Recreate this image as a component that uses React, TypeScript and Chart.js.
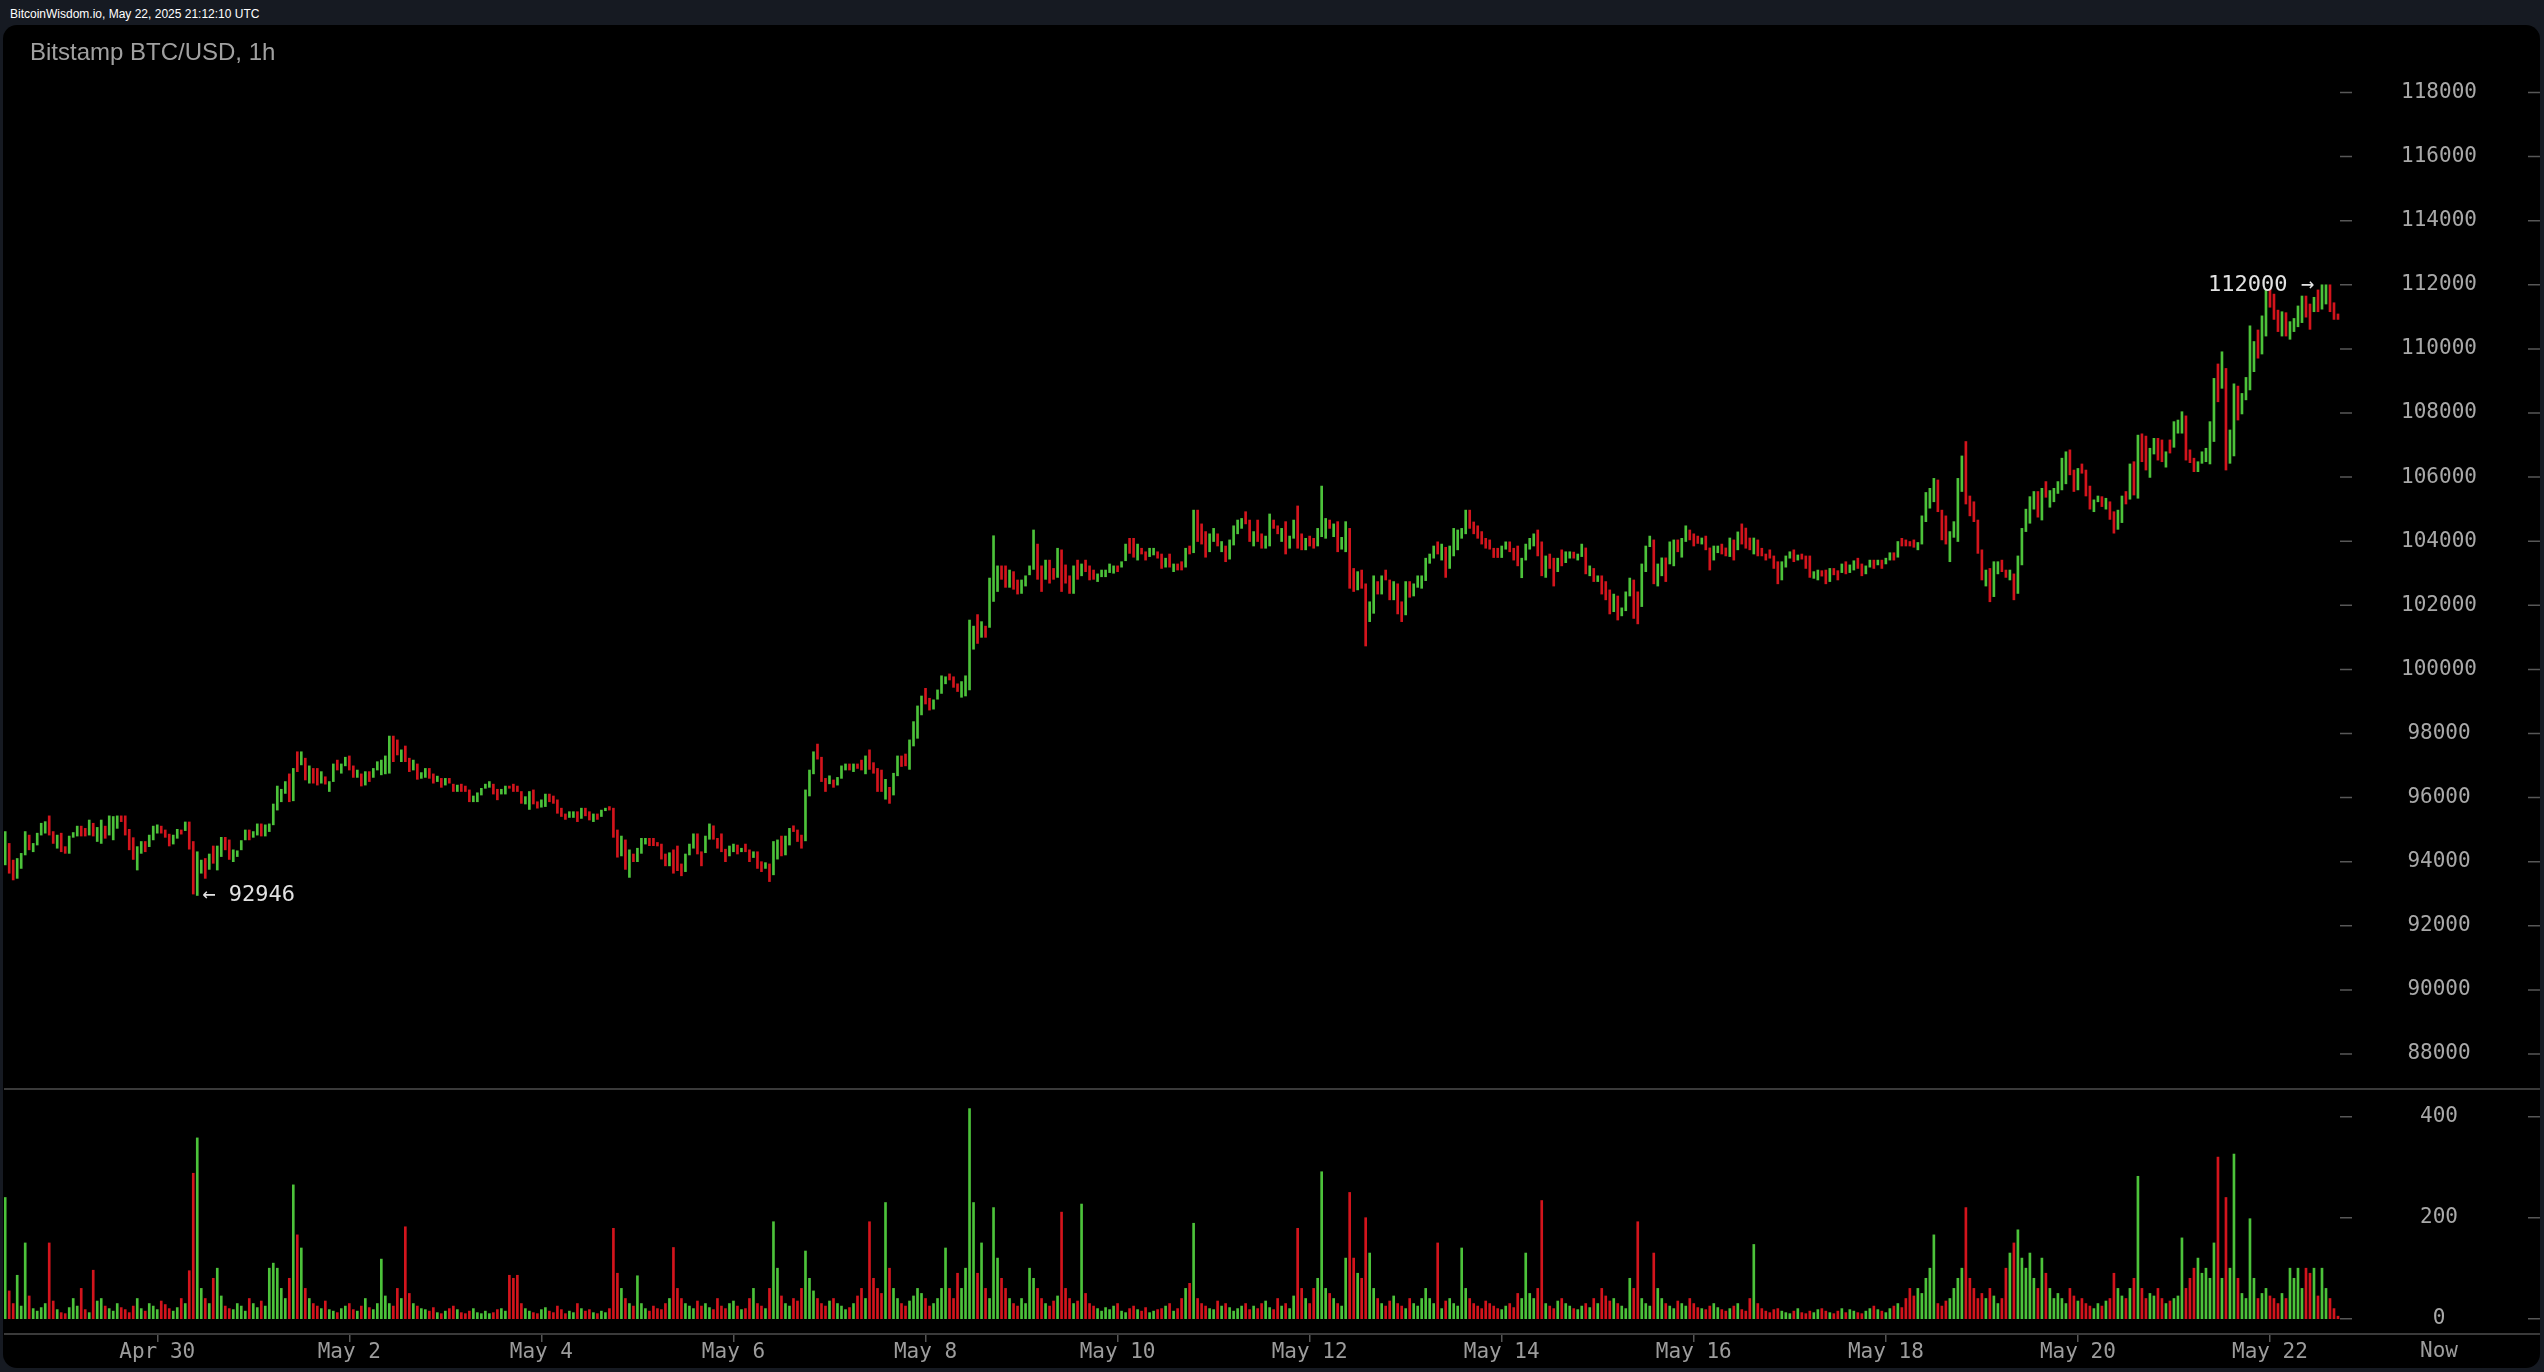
import React, { useEffect, useRef } from "react";
import { Chart, registerables } from "chart.js";

Chart.register(...registerables);

// ---------- data (hourly candles, Bitstamp BTC/USD) ----------
const highs: number[] = [
  94940,94570,94050,94100,94260,94940,94830,94570,94890,95200,95250,95430,
  94940,94830,94890,94470,94800,94910,95110,95110,95040,95300,95200,95070,
  95300,95110,95430,95410,95430,95430,95430,95010,94750,94470,94630,94630,
  94830,95110,95150,95110,94990,94860,94830,95010,94990,95240,95240,94630,
  94310,94050,94100,94240,94490,94490,94760,94760,94680,94370,94340,94660,
  94990,94990,94940,95180,95180,95150,95180,95800,96360,96260,96500,96740,
  96910,97430,97430,97230,96990,96910,96910,96810,96650,96500,97050,97170,
  97050,97260,97300,96990,96860,96740,96810,96810,96910,97120,97170,97300,
  97920,97920,97800,97490,97610,97230,97170,97050,96780,96910,96910,96740,
  96670,96600,96600,96600,96420,96390,96420,96360,96240,96050,96150,96290,
  96420,96500,96420,96260,96260,96360,96360,96420,96360,96190,96030,96190,
  96240,95870,95930,96110,96110,96050,95930,95670,95490,95560,95560,95560,
  95670,95670,95560,
  95490,95490,95610,95670,95720,95670,94990,94800,94680,94370,94240,94420,
  94730,94730,94730,94730,94600,94550,94240,94280,94370,94490,93930,94240,
  94550,94870,94870,94310,94800,95180,95120,94730,94870,94390,94490,94550,
  94520,94420,94550,94370,94310,94310,94000,93970,93930,94630,94680,94800,
  94800,95040,95120,94990,94830,96240,96860,97430,97670,97260,96600,96680,
  96550,96630,96990,97050,97050,97050,97050,97170,97300,97490,97090,96910,
  96860,96570,96320,96760,97300,97300,97360,97800,98370,98860,99170,99410,
  99100,99050,99360,99800,99770,99860,99770,99550,99620,99800,101540,101350,
  101710,101490,101350,102850,104170,103230,103230,103230,103100,103050,102790,102790,
  102920,103230,104350,103910,103230,103410,103410,103150,103780,103730,103260,102920,
  103230,103410,103290,103410,103230,103100,102980,103100,103100,103290,103230,103230,
  103360,103910,104090,104090,103910,103780,103670,103780,103780,103670,103600,103470,
  103600,103290,
  103290,103360,103780,103850,104970,104970,104540,104300,104230,104400,104230,103990,
  103850,104040,104480,104660,104710,104920,104660,104300,104660,104230,104160,104850,
  104660,104480,104400,104610,104160,104660,105100,104230,104090,104160,104090,104400,
  105720,104710,104660,104540,104610,104120,104610,104400,103150,103050,103100,102670,
  102110,102920,102740,102920,103100,102790,102740,102670,102110,102740,102740,102670,
  102920,102920,103470,103600,103850,103980,103910,103810,103850,104400,104350,104400,
  104970,104970,104600,104480,104300,104090,104040,103780,103780,103850,103980,103980,
  103780,103850,103470,103910,104090,104230,104350,103980,103540,103600,103470,103470,
  103730,103670,103670,103660,103600,103910,103790,103230,103150,102920,102920,102740,
  102480,102350,102290,101920,102420,102850,102790,102420,103290,103850,104160,104040,
  103290,103480,103480,103980,104040,104040,104090,104480,104350,104230,104160,104100,
  104160,103790,103850,103850,103910,103790,104100,104040,104290,104540,104410,104100,
  104100,104040,
  103780,103600,103730,103540,103360,103360,103540,103670,103730,103570,103600,103540,
  103540,103050,103100,103080,103100,103150,103150,103080,103290,103360,103260,103390,
  103470,103290,103230,103410,103410,103410,103410,103470,103640,103640,103990,104090,
  104040,103990,104040,103960,104790,105520,105650,105960,105910,104970,104790,104300,
  104610,105960,106660,107110,105410,105230,104660,103730,103100,103150,103360,103360,
  103410,103100,103100,102980,103540,104400,105000,105390,105550,105550,105650,105860,
  105580,105650,105860,106590,106790,106850,106220,106270,106410,106220,105720,105290,
  105410,105390,105340,105230,104920,104970,105410,105550,106410,106480,107310,107350,
  107280,106900,107210,107210,107160,106790,107160,107730,107780,108040,107910,106850,
  106590,106480,106790,106900,107730,109080,109530,109910,109390,107470,108910,108840,
  108610,109110,110720,110230,110590,111030,111860,111860,111710,111210,111160,111130,
  110850,110950,111340,111650,111650,111400,111610,111840,112000,112000,112000,111440,
  111090,
];

const lows: number[] = [
  93900,93640,93430,93480,93790,94210,94370,94310,94520,94830,94890,94830,
  94570,94420,94310,94260,94260,94760,94800,94800,94800,94830,94800,94630,
  94570,94730,94830,94680,95040,95250,94830,94370,94070,93740,94260,94310,
  94470,94680,94890,94890,94760,94490,94550,94730,94860,94970,94390,92990,
  92946,93640,93480,93760,93950,93740,94160,94370,94070,94000,94160,94370,
  94680,94680,94760,94830,94800,94800,94940,95150,95610,95870,96130,95870,
  95900,96810,97020,96550,96450,96450,96390,96450,96420,96190,96500,96860,
  96760,96990,96860,96630,96630,96360,96390,96500,96630,96860,96710,96740,
  96760,97120,97330,97120,97120,96810,96860,96570,96600,96630,96600,96450,
  96500,96320,96390,96450,96190,96190,96190,96190,95870,95870,95870,96080,
  96290,96320,96110,95930,96110,96110,96290,96190,96190,95820,95800,95630,
  95800,95670,95700,95720,95870,95820,95510,95410,95320,95380,95380,95250,
  95350,95430,95300,
  95250,95320,95410,95590,95610,94760,94140,94180,93760,93510,94000,94000,
  94260,94550,94500,94500,94490,94080,93870,93870,93640,93720,93560,93690,
  94210,94420,94240,93870,94280,94700,94700,94420,94310,94000,94180,94310,
  94240,94310,94310,94000,94130,93790,93690,93790,93380,93590,94080,94180,
  94210,94520,94940,94630,94420,94650,96050,96740,97200,96500,96190,96430,
  96320,96390,96600,96860,96860,96810,96910,96860,96740,96880,96760,96190,
  96190,95950,95820,96080,96680,96970,96990,96880,97610,97850,98580,98920,
  98730,98760,99070,99250,99550,99670,99440,99310,99130,99170,99360,100630,
  100810,101000,101000,101310,102120,102430,102810,102560,102560,102500,102350,102370,
  102600,102950,103120,102810,102430,102810,102690,102810,102870,102430,102690,102370,
  102370,102810,102920,103050,102790,102810,102740,102890,102890,103020,103000,103050,
  103190,103390,103620,103500,103410,103600,103410,103520,103570,103470,103150,103190,
  103190,103050,
  103100,103100,103190,103600,103640,103990,103910,103500,103670,103990,103850,103670,
  103360,103440,103880,104230,104400,104540,103990,103850,103990,103780,103780,103850,
  104400,104230,103990,103600,103780,104090,103780,103730,103730,103850,103780,103850,
  104140,104090,104400,104140,103670,103750,103670,102530,102430,102480,102530,100730,
  101490,101750,102350,102350,102790,102170,102170,101730,101490,101700,102250,102290,
  102560,102530,102770,103310,103470,103600,103410,102870,103150,103540,103730,104090,
  104230,104400,104230,104090,103910,103780,103750,103490,103490,103490,103750,103670,
  103410,103230,102860,103410,103750,103850,103540,102920,102870,103150,102600,103050,
  103230,103330,103470,103470,103410,103520,102980,102920,102740,102740,102350,102170,
  101730,101800,101540,101670,101830,102290,101590,101420,101960,103050,103830,102670,
  102600,102920,102740,103290,103230,103670,103500,103990,104040,103850,103930,103910,
  103730,103100,103410,103640,103600,103540,103520,103410,103730,103910,103780,103730,
  103600,103540,
  103540,103410,103470,103150,102670,102790,103190,103470,103360,103410,103440,103150,
  102870,102840,102790,102910,102670,102740,102950,102790,103020,102980,103020,103100,
  103150,102920,102980,103190,103150,103260,103150,103290,103410,103410,103500,103850,
  103850,103850,103810,103730,103910,104610,105030,105230,104920,104040,103910,103360,
  104120,103990,105550,105160,104790,104610,103620,102790,102600,102110,102270,102980,
  103050,102870,102790,102170,102370,103260,104300,104560,105000,104750,104660,105370,
  105060,105230,105490,105600,105790,106070,105550,105600,106120,105410,105000,104920,
  105230,105080,105000,104680,104250,104370,104580,105160,105310,105440,105340,106480,
  106220,105990,106720,106530,106480,106310,106750,106930,107370,107370,106530,106450,
  106170,106170,106430,106480,106410,107110,108350,108770,106220,106430,106660,107780,
  107970,108410,108720,109290,109710,109840,110400,111300,110920,110540,110400,110400,
  110300,110540,110690,110820,110990,110610,111160,111160,111240,111400,111160,110920,
  110920,
];

const closes: number[] = [
  94800,93750,93500,94000,94200,94850,94420,94540,94850,95150,95200,94880,
  94610,94780,94360,94280,94760,94890,95080,94830,94820,95250,94840,95020,
  95220,94770,95300,95340,95400,95270,94880,94430,94130,94400,94580,94350,
  94790,95060,95120,94910,94780,94530,94800,94980,94870,95210,94450,93100,
  93900,94020,93560,94180,94000,94420,94700,94410,94120,94330,94340,94620,
  94950,94710,94920,95150,94830,95110,95170,95740,96200,96240,96460,95950,
  96850,96830,97380,96620,96940,96500,96440,96770,96440,96470,97000,96890,
  97020,97230,96900,96670,96840,96400,96760,96540,96880,97090,97130,97250,
  97800,97450,97380,97450,97160,96850,97130,96610,96760,96880,96630,96480,
  96650,96350,96580,96470,96210,96370,96220,96200,95900,96030,96130,96270,
  96410,96480,96140,95960,96240,96340,96300,96210,96200,95850,96010,96150,
  95830,95690,95910,96080,95890,95840,95540,95430,95340,95540,95550,95270,
  95640,95450,95320,
  95470,95340,95590,95660,95620,94800,94180,94750,93800,94300,94020,94380,
  94700,94720,94520,94510,94500,94110,93900,94240,93900,93760,93590,94180,
  94500,94830,94290,93900,94750,95120,94740,94450,94350,94030,94450,94520,
  94270,94400,94330,94030,94290,93830,93720,93950,93450,94550,94640,94220,
  94760,95000,94960,94660,94450,96150,96800,97350,97230,96540,96220,96650,
  96340,96610,96960,97030,96880,97020,96930,96880,97250,96920,96790,96240,
  96220,96510,95860,96700,97250,97000,96990,97720,98300,98780,99120,98960,
  98760,99020,99330,99750,99760,99690,99470,99330,99580,99760,101300,101320,
  100860,101450,101030,102750,103100,103200,102850,102600,103050,102540,102380,102760,
  102890,103200,103700,102900,102500,103350,102850,102840,103700,102800,102730,102400,
  103150,102850,103250,103080,102830,102820,102960,103080,103090,103200,103210,103070,
  103340,103850,103660,103540,103870,103620,103440,103750,103760,103490,103190,103440,
  103220,103260,
  103120,103110,103700,103620,104800,104050,103950,103560,104180,104360,103890,103960,
  103400,103990,104420,104630,104700,104570,104030,104250,104020,103810,104130,104750,
  104430,104250,104370,103680,104120,104600,103860,103760,104060,103880,103800,104350,
  104450,104650,104420,104500,103720,104080,104550,102620,102480,102990,102570,101650,
  102050,102850,102380,102870,102810,102200,102690,101780,101520,102650,102280,102630,
  102880,102900,103400,103580,103820,103630,103870,102950,103800,104320,104330,104380,
  104900,104440,104260,104120,103940,103810,103770,103520,103500,103800,103950,103700,
  103440,103260,103420,103870,104050,104200,103600,102980,103480,103180,102650,103430,
  103260,103640,103660,103490,103580,103880,103030,103200,102770,102900,102380,102200,
  101780,102300,101580,101900,102380,102800,101650,101500,103150,103780,104120,102800,
  103200,103430,102800,103900,103980,103700,104050,104440,104060,103960,103950,104080,
  103760,103130,103800,103830,103620,103560,104050,103450,104250,103960,103800,103760,
  104060,103560,
  103550,103500,103480,103180,102720,103300,103500,103650,103390,103550,103460,103180,
  102900,103030,103080,102930,102700,103120,102970,102810,103260,103000,103240,103370,
  103180,102940,103210,103390,103170,103400,103170,103450,103620,103430,103940,103870,
  103860,103855,103830,103940,104700,105400,105600,105900,105000,104150,104000,104250,
  104570,105600,106500,105300,104850,104650,103700,102850,103050,102200,103300,103340,
  103080,102890,103070,102250,103450,104300,104950,105300,105500,104800,105550,105400,
  105520,105620,105830,106500,106700,106100,105600,106220,106140,105450,105050,105260,
  105400,105100,105310,104720,104300,104900,105350,105190,106350,105500,107150,106550,
  106300,106850,107180,106560,106500,106780,106760,107650,107700,107980,106600,106480,
  106200,106450,106760,106870,107600,108700,108450,109500,107000,107400,108700,107900,
  108550,109050,109900,110150,109800,110950,111700,111350,110950,110560,111100,110450,
  110800,110900,111300,111600,111050,110650,111580,111200,111900,111950,111250,110950,
  110930,
];

const firstOpen = 94000;

const volumes: number[] = [
  240,55,30,86,25,150,45,20,15,22,30,150,35,18,12,10,22,40,25,60,18,12,96,35,
  40,25,20,15,30,22,18,12,25,40,20,15,30,25,18,35,28,20,15,22,40,30,95,288,
  358,60,40,30,80,100,45,25,20,18,30,25,15,40,30,22,35,25,100,110,100,60,40,80,
  265,166,140,60,40,30,25,20,35,18,15,12,20,25,30,18,15,25,40,22,18,30,118,45,
  30,25,60,40,182,50,30,25,20,18,15,22,12,10,15,20,25,18,12,10,15,20,12,10,
  15,10,12,18,20,15,86,80,86,30,20,15,12,10,18,22,15,12,25,18,10,15,12,30,
  20,15,18,12,10,15,12,20,179,90,60,40,30,25,85,30,20,15,25,20,18,30,40,141,
  60,40,30,25,20,35,25,30,22,18,40,25,20,30,35,25,18,20,40,60,30,25,20,60,
  192,100,45,30,25,40,35,60,134,80,55,40,30,25,35,40,30,25,18,22,30,45,60,40,
  192,80,60,50,230,100,60,40,30,25,35,45,60,50,40,25,30,40,60,140,60,40,90,60,
  100,416,230,90,150,60,40,220,120,80,60,40,30,25,40,30,100,80,60,40,30,25,35,45,
  211,60,40,30,35,227,50,30,25,20,15,22,18,25,30,15,12,20,25,18,15,22,12,15,
  18,20,25,30,15,20,40,60,70,189,40,30,25,20,18,35,25,30,22,15,20,25,30,18,
  25,20,30,35,22,18,40,25,30,20,45,179,60,40,30,60,80,291,60,50,40,30,25,120,
  250,120,90,80,200,130,60,40,30,25,35,45,30,25,20,40,30,25,40,60,40,30,150,20,
  35,40,30,25,140,60,40,30,25,20,35,30,25,20,18,25,30,22,50,40,130,50,40,60,
  234,30,25,20,35,40,30,25,20,18,25,30,22,40,30,60,45,35,40,30,25,20,80,60,
  192,40,30,25,130,60,40,30,25,20,35,30,25,40,30,22,20,18,25,30,22,18,15,20,
  25,30,18,15,40,147,30,20,15,12,18,20,15,12,10,15,20,12,10,15,12,18,20,15,
  12,10,15,20,12,18,15,12,10,15,20,25,18,15,12,20,25,30,22,40,60,45,60,50,
  80,100,166,30,25,35,40,60,80,100,220,80,60,40,50,40,60,45,30,40,100,130,150,176,
  120,100,130,80,60,120,90,60,40,50,40,30,60,45,35,40,30,25,20,30,25,35,40,90,
  60,45,40,60,80,282,60,40,50,45,60,40,30,35,40,45,160,60,80,100,120,90,100,80,
  150,320,80,240,100,326,80,50,40,198,80,40,50,60,45,40,30,50,40,100,80,100,60,100,
  90,100,45,100,60,40,20,5,
];

const dateLabels = ["Apr 30", "May 2", "May 4", "May 6", "May 8", "May 10", "May 12", "May 14", "May 16", "May 18", "May 20", "May 22"];
const firstLabelHour = 38;
const hoursBetweenLabels = 48;
const priceTicks = [88000, 90000, 92000, 94000, 96000, 98000, 100000, 102000, 104000, 106000, 108000, 110000, 112000, 114000, 116000, 118000];
const volumeTicks = [0, 200, 400];

// ---------- style ----------
const GREEN = "#4cc23a";
const RED = "#d3141c";
const MONO = '"DejaVu Sans Mono", monospace';
const AXIS_W = 200;
const LABEL_CENTER = 99;
const CANVAS_W = 2536;
const PRICE_H = 1063;
const VOL_H = 280;

export default function App() {
  const priceRef = useRef<HTMLCanvasElement>(null);
  const volRef = useRef<HTMLCanvasElement>(null);

  useEffect(() => {
    const n = highs.length;
    const opens = closes.map((c, i) => (i === 0 ? firstOpen : closes[i - 1]));
    const colors = closes.map((c, i) => (c >= opens[i] ? GREEN : RED));
    const xMin = -0.3;
    const xMax = n - 0.5;

    const m = document.createElement("canvas").getContext("2d")!;
    m.font = `21px ${MONO}`;
    const wPrice = Math.max(...priceTicks.map((v) => m.measureText(String(v)).width));
    const wVol = Math.max(...volumeTicks.map((v) => m.measureText(String(v)).width));

    const dashPlugin = {
      id: "axisDashes",
      afterDraw(chart: any) {
        const ctx = chart.ctx;
        const ys = chart.scales.y;
        const ca = chart.chartArea;
        ctx.save();
        ctx.strokeStyle = "#575757";
        ctx.lineWidth = 1.5;
        ys.ticks.forEach((t: any) => {
          const y = ys.getPixelForValue(t.value);
          ctx.beginPath();
          ctx.moveTo(ca.right, y);
          ctx.lineTo(ca.right + 12, y);
          ctx.moveTo(chart.width - 12, y);
          ctx.lineTo(chart.width, y);
          ctx.stroke();
        });
        ctx.restore();
      },
    };

    const extremesPlugin = {
      id: "extremes",
      afterDatasetsDraw(chart: any) {
        const ctx = chart.ctx;
        const xs = chart.scales.x;
        const ys = chart.scales.y;
        let iMin = 0;
        let iMax = 0;
        for (let i = 0; i < n; i++) {
          if (lows[i] < lows[iMin]) iMin = i;
          if (highs[i] > highs[iMax]) iMax = i;
        }
        ctx.save();
        ctx.font = `22px ${MONO}`;
        ctx.fillStyle = "#e2e2e2";
        ctx.textBaseline = "middle";
        ctx.textAlign = "left";
        ctx.fillText("\u2190 " + lows[iMin], xs.getPixelForValue(iMin) + 5, ys.getPixelForValue(lows[iMin]));
        ctx.textAlign = "right";
        ctx.fillText(highs[iMax] + " \u2192", xs.getPixelForValue(iMax) - 8, ys.getPixelForValue(highs[iMax]));
        ctx.restore();
      },
    };

    const framePlugin = {
      id: "frame",
      afterDraw(chart: any) {
        const ctx = chart.ctx;
        const ca = chart.chartArea;
        ctx.save();
        ctx.strokeStyle = "#3a3a3a";
        ctx.lineWidth = 2;
        ctx.beginPath();
        ctx.moveTo(0, 1);
        ctx.lineTo(chart.width, 1);
        ctx.moveTo(0, ca.bottom);
        ctx.lineTo(chart.width, ca.bottom);
        ctx.stroke();
        ctx.fillStyle = "#9c9c9c";
        ctx.font = `21px ${MONO}`;
        ctx.textAlign = "center";
        ctx.textBaseline = "middle";
        ctx.fillText("Now", ca.right + LABEL_CENTER, ca.bottom + 18);
        ctx.restore();
      },
    };

    const zeroPad = (s: any) => {
      s.paddingTop = 0;
      s.paddingBottom = 0;
      s.paddingLeft = 0;
      s.paddingRight = 0;
    };

    const common: any = {
      animation: false,
      responsive: false,
      events: [],
      layout: { padding: 0 },
      plugins: { legend: { display: false }, tooltip: { enabled: false }, title: { display: false } },
    };

    const priceChart = new Chart(priceRef.current!, {
      type: "bar",
      data: {
        datasets: [
          {
            data: highs.map((h, i) => ({ x: i, y: [lows[i], h] })) as any,
            backgroundColor: colors,
            barThickness: 2,
            borderWidth: 0,
            borderSkipped: false,
            minBarLength: 1,
          },
        ],
      },
      options: {
        ...common,
        scales: {
          x: { type: "linear", min: xMin, max: xMax, display: false, offset: false, grid: { offset: false } },
          y: {
            type: "linear",
            position: "right",
            min: 86939,
            max: 120106,
            beginAtZero: false,
            grid: { display: false, drawTicks: false },
            border: { display: false },
            afterBuildTicks: (s: any) => {
              s.ticks = priceTicks.map((v) => ({ value: v }));
            },
            afterFit: (s: any) => {
              s.width = AXIS_W;
              zeroPad(s);
            },
            ticks: {
              autoSkip: false,
              color: "#a8a8a8",
              font: { family: MONO, size: 21 },
              crossAlign: "center",
              padding: LABEL_CENTER - wPrice / 2,
              callback: (v: any) => String(v),
            },
          },
        },
      } as any,
      plugins: [dashPlugin, extremesPlugin],
    });

    const volChart = new Chart(volRef.current!, {
      type: "bar",
      data: {
        datasets: [
          {
            data: volumes.map((v, i) => ({ x: i, y: v })) as any,
            backgroundColor: colors,
            barThickness: 2,
            borderWidth: 0,
            borderSkipped: false,
          },
        ],
      },
      options: {
        ...common,
        scales: {
          x: {
            type: "linear",
            min: xMin,
            max: xMax,
            offset: false,
            position: "bottom",
            grid: { display: true, drawOnChartArea: false, drawTicks: true, tickLength: 8, color: "#555555", lineWidth: 1.5, offset: false },
            border: { display: false },
            afterBuildTicks: (s: any) => {
              s.ticks = dateLabels.map((_, k) => ({ value: firstLabelHour + k * hoursBetweenLabels }));
            },
            afterFit: (s: any) => {
              s.height = 34;
              zeroPad(s);
            },
            ticks: {
              autoSkip: false,
              maxRotation: 0,
              minRotation: 0,
              color: "#9c9c9c",
              font: { family: MONO, size: 21, lineHeight: 1 },
              padding: 0,
              callback: (_v: any, idx: number) => dateLabels[idx],
            },
          },
          y: {
            type: "linear",
            position: "right",
            min: -30.3,
            max: 456.8,
            beginAtZero: false,
            grid: { display: false, drawTicks: false },
            border: { display: false },
            afterBuildTicks: (s: any) => {
              s.ticks = volumeTicks.map((v) => ({ value: v }));
            },
            afterFit: (s: any) => {
              s.width = AXIS_W;
              zeroPad(s);
            },
            ticks: {
              autoSkip: false,
              color: "#a8a8a8",
              font: { family: MONO, size: 21 },
              crossAlign: "center",
              padding: LABEL_CENTER - wVol / 2,
              callback: (v: any) => String(v),
            },
          },
        },
      } as any,
      plugins: [dashPlugin, framePlugin],
    });

    return () => {
      priceChart.destroy();
      volChart.destroy();
    };
  }, []);

  return (
    <div style={{ position: "fixed", inset: 0, background: "#161a22", overflow: "hidden" }}>
      <div
        style={{
          position: "absolute",
          left: 10,
          top: 8,
          color: "#ffffff",
          fontFamily: '"Liberation Sans", Arial, sans-serif',
          fontSize: 12,
          lineHeight: "12px",
          whiteSpace: "nowrap",
        }}
      >
        BitcoinWisdom.io, May 22, 2025 21:12:10 UTC
      </div>
      <div
        style={{
          position: "absolute",
          left: 3,
          top: 25,
          width: 2537,
          height: 1343,
          background: "#000000",
          borderRadius: 14,
          overflow: "hidden",
        }}
      >
        <canvas ref={priceRef} width={CANVAS_W} height={PRICE_H} style={{ position: "absolute", left: 1, top: 0 }} />
        <canvas ref={volRef} width={CANVAS_W} height={VOL_H} style={{ position: "absolute", left: 1, top: PRICE_H }} />
        <div
          style={{
            position: "absolute",
            left: 27,
            top: 15,
            color: "#a0a0a0",
            fontFamily: '"Liberation Sans", Arial, sans-serif',
            fontSize: 24,
            lineHeight: "24px",
            whiteSpace: "nowrap",
          }}
        >
          Bitstamp BTC/USD, 1h
        </div>
      </div>
    </div>
  );
}
